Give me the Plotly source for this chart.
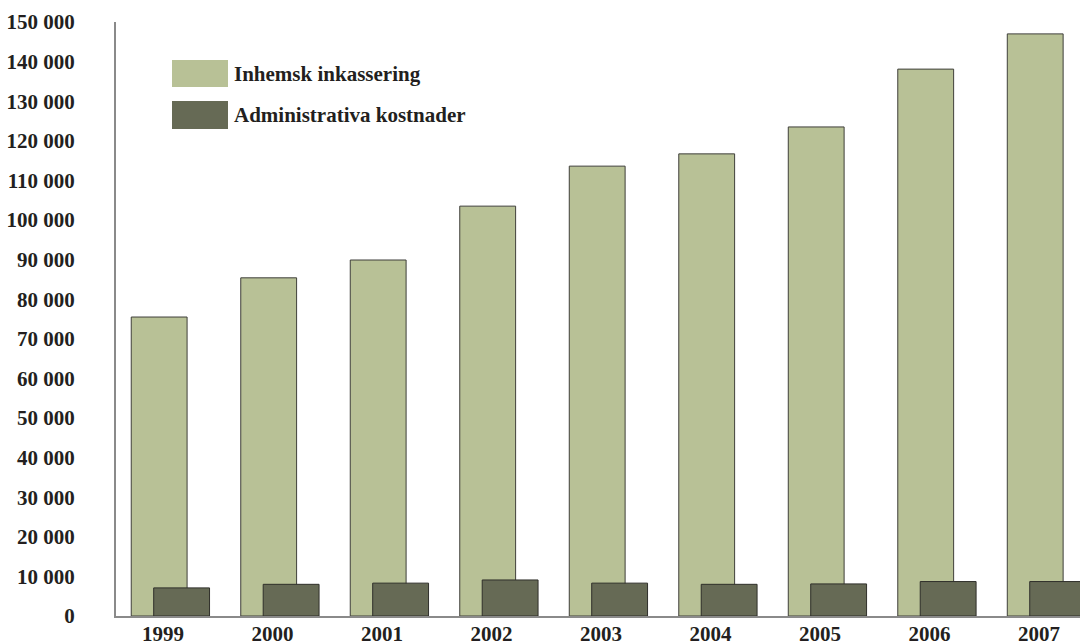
import plotly.graph_objects as go

years = ["1999", "2000", "2001", "2002", "2003", "2004", "2005", "2006", "2007"]
inhemsk = [75500, 85400, 89900, 103500, 113600, 116700, 123500, 138100, 147000]
admin = [7100, 8000, 8300, 9100, 8300, 8000, 8100, 8700, 8700]
y_ticks = [0, 10000, 20000, 30000, 40000, 50000, 60000, 70000, 80000, 90000,
           100000, 110000, 120000, 130000, 140000, 150000]
y_tick_labels = ["0", "10 000", "20 000", "30 000", "40 000", "50 000", "60 000",
                 "70 000", "80 000", "90 000", "100 000", "110 000", "120 000",
                 "130 000", "140 000", "150 000"]
series_names = ["Inhemsk inkassering", "Administrativa kostnader"]

LIGHT = "#b8c196"
DARK = "#666a55"
FONT = "Liberation Serif"
FS = 21
TXT = "#231f20"

x = list(range(len(years)))

fig = go.Figure()
fig.add_trace(go.Bar(x=x, y=inhemsk, name=series_names[0], offset=-0.29, width=0.51,
                     marker=dict(color=LIGHT, line=dict(color="#3f3f3a", width=1))))
fig.add_trace(go.Bar(x=x, y=admin, name=series_names[1], offset=-0.085, width=0.51,
                     marker=dict(color=DARK, line=dict(color="#2f2f2a", width=1))))

# custom legend
legend_items = [(series_names[0], LIGHT, 60, 87), (series_names[1], DARK, 101, 129)]
plot_h = 644 - 22 - 28
shapes = []
annotations = []
for name, col, y0, y1 in legend_items:
    shapes.append(dict(type="rect", xref="paper", yref="paper",
                       x0=(172 - 116) / (1080 - 116), x1=(228 - 116) / (1080 - 116),
                       y0=(616 - y1) / plot_h, y1=(616 - y0) / plot_h,
                       fillcolor=col, line=dict(width=0)))
    annotations.append(dict(xref="paper", yref="paper",
                            x=(232 - 116) / (1080 - 116), y=(616 - (y0 + y1) / 2) / plot_h,
                            xanchor="left", yanchor="middle", showarrow=False,
                            text="<b>" + name + "</b>",
                            font=dict(family=FONT, size=FS, color=TXT)))

fig.update_layout(
    width=1080, height=644,
    margin=dict(l=116, r=0, t=22, b=28, autoexpand=False),
    paper_bgcolor="white", plot_bgcolor="white",
    barmode="overlay", showlegend=False,
    shapes=shapes, annotations=annotations,
    font=dict(family=FONT, size=FS, color=TXT),
    xaxis=dict(range=[-0.4292, 8.374], tickvals=x, ticktext=["<b>" + y + "</b>" for y in years],
               showgrid=False, zeroline=False, showline=True, linecolor="#8a8a8a", linewidth=2,
               ticks="", automargin=False, ticklabelstandoff=-2,
               tickfont=dict(family=FONT, size=FS, color=TXT)),
    yaxis=dict(range=[0, 150000], tickvals=y_ticks,
               ticktext=["<b>" + t + "</b>" for t in y_tick_labels],
               showgrid=False, zeroline=False, showline=True, linecolor="#8a8a8a", linewidth=2,
               ticks="", ticklabelstandoff=35, automargin=False,
               tickfont=dict(family=FONT, size=FS, color=TXT)),
)

fig.write_html("out.html", config={"displayModeBar": False},
               post_script="document.body.style.margin='0px';document.body.style.overflow='hidden';")
